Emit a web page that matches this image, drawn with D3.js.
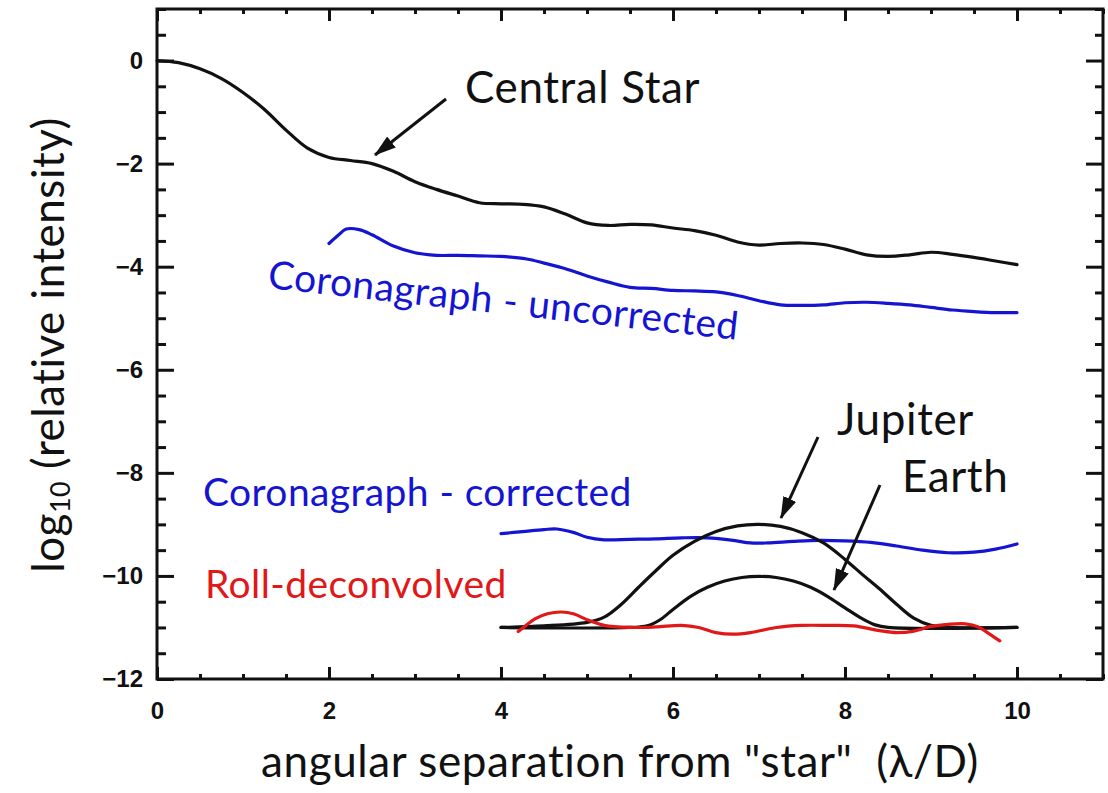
<!DOCTYPE html>
<html>
<head>
<meta charset="utf-8">
<script src="https://cdn.jsdelivr.net/npm/d3@7"></script>
<style>
  body { margin: 0; background: #fff; }
  svg { display: block; }
</style>
</head>
<body>
<svg id="chart" width="1108" height="793"></svg>
<script>
// Axis ticks
const xMajorTicks = [0, 2, 4, 6, 8, 10];
const yMajorTicks = [0, -2, -4, -6, -8, -10, -12];

// Series: [angular separation (lambda/D), log10 relative intensity]
const centralStar = [
  [0, 0], [0.25, -0.04], [0.5, -0.16], [0.75, -0.35], [1.0, -0.62], [1.25, -0.95],
  [1.5, -1.35], [1.75, -1.7], [2.0, -1.88], [2.25, -1.94], [2.5, -2.0], [2.75, -2.15],
  [3.0, -2.35], [3.25, -2.5], [3.5, -2.63], [3.75, -2.76], [4.0, -2.78], [4.25, -2.79],
  [4.5, -2.84], [4.75, -2.98], [5.0, -3.15], [5.25, -3.2], [5.5, -3.18], [5.75, -3.19],
  [6.0, -3.25], [6.25, -3.3], [6.5, -3.39], [6.75, -3.52], [7.0, -3.58], [7.25, -3.55],
  [7.5, -3.54], [7.75, -3.57], [8.0, -3.66], [8.25, -3.77], [8.5, -3.8], [8.75, -3.77],
  [9.0, -3.72], [9.25, -3.76], [9.5, -3.82], [9.75, -3.89], [10.0, -3.96]
];

const coronagraphUncorrected = [
  [2.0, -3.55], [2.1, -3.4], [2.2, -3.27], [2.35, -3.28], [2.5, -3.38], [2.75, -3.6],
  [3.0, -3.73], [3.25, -3.78], [3.5, -3.78], [3.75, -3.79], [4.0, -3.8], [4.3, -3.85],
  [4.5, -3.93], [4.75, -4.04], [5.0, -4.18], [5.25, -4.3], [5.5, -4.4], [5.75, -4.42],
  [6.0, -4.46], [6.25, -4.47], [6.5, -4.49], [6.75, -4.56], [7.0, -4.66], [7.25, -4.74],
  [7.5, -4.75], [7.75, -4.74], [8.0, -4.7], [8.25, -4.69], [8.5, -4.71], [8.75, -4.74],
  [9.0, -4.79], [9.25, -4.84], [9.5, -4.87], [9.75, -4.89], [10.0, -4.89]
];

const coronagraphCorrected = [
  [4.0, -9.18], [4.25, -9.14], [4.5, -9.1], [4.65, -9.09], [4.85, -9.16], [5.0, -9.25],
  [5.2, -9.3], [5.5, -9.29], [5.8, -9.28], [6.1, -9.26], [6.4, -9.26], [6.7, -9.31],
  [6.9, -9.36], [7.1, -9.36], [7.4, -9.33], [7.7, -9.31], [8.0, -9.32], [8.3, -9.35],
  [8.6, -9.42], [8.9, -9.5], [9.2, -9.55], [9.5, -9.54], [9.75, -9.48], [10.0, -9.38]
];

const jupiter = [
  [4.0, -11], [4.5, -10.97], [5.0, -10.9], [5.2, -10.8], [5.4, -10.55], [5.6, -10.22],
  [5.8, -9.9], [6.0, -9.6], [6.25, -9.33], [6.5, -9.14], [6.75, -9.03], [7.0, -9.0],
  [7.25, -9.04], [7.5, -9.16], [7.75, -9.36], [8.0, -9.68], [8.2, -9.97], [8.4, -10.25],
  [8.6, -10.55], [8.8, -10.82], [9.0, -10.96], [9.2, -11], [10.0, -11]
];

const earth = [
  [4.0, -11], [5.5, -11], [5.7, -10.97], [5.85, -10.85], [6.0, -10.65], [6.2, -10.4],
  [6.4, -10.22], [6.6, -10.1], [6.8, -10.03], [7.0, -10.01], [7.2, -10.03], [7.4, -10.1],
  [7.6, -10.22], [7.8, -10.4], [8.0, -10.62], [8.2, -10.83], [8.35, -10.95], [8.5, -11],
  [10.0, -11]
];

const rollDeconvolved = [
  [4.2, -11.08], [4.3, -10.95], [4.4, -10.83], [4.55, -10.73], [4.7, -10.7], [4.85, -10.74],
  [5.0, -10.85], [5.2, -10.96], [5.5, -11.0], [5.8, -10.99], [6.1, -10.96], [6.3, -11.0],
  [6.5, -11.1], [6.7, -11.13], [6.9, -11.1], [7.2, -11.0], [7.5, -10.96], [7.8, -10.96],
  [8.1, -10.97], [8.4, -11.06], [8.6, -11.1], [8.8, -11.07], [9.0, -10.98], [9.2, -10.94],
  [9.4, -10.93], [9.55, -10.99], [9.7, -11.15], [9.8, -11.26]
];

const BLUE = "#1414d2";
const RED = "#e01818";
const TEXT_FONT = "Lato, 'Open Sans', sans-serif";
const TICK_FONT = "'Liberation Sans', Arial, sans-serif";

const svg = d3.select("#chart");

const x = d3.scaleLinear().domain([0, 11]).range([157, 1103]);
const y = d3.scaleLinear().domain([-12, 1]).range([679, 9]);

const plotLeft = x(0), plotRight = x(11), plotTop = y(1), plotBottom = y(-12);

const xMinor = d3.range(0, 11.001, 0.5).filter(v => !xMajorTicks.includes(v));
const yMinor = d3.range(-12, 1.001, 0.5).filter(v => !yMajorTicks.includes(v));

// Inward-pointing ticks on all four sides
function tickAxis(axisFn, scale, values, size, transform) {
  const g = svg.append("g").attr("transform", transform)
    .call(axisFn(scale).tickValues(values).tickSize(-size).tickFormat(""));
  g.select(".domain").remove();
  g.selectAll(".tick line").attr("stroke", "#111").attr("stroke-width", 3);
}
tickAxis(d3.axisBottom, x, xMinor, 5, `translate(0,${plotBottom})`);
tickAxis(d3.axisBottom, x, xMajorTicks, 12, `translate(0,${plotBottom})`);
tickAxis(d3.axisTop, x, xMinor, 5, `translate(0,${plotTop})`);
tickAxis(d3.axisTop, x, xMajorTicks, 12, `translate(0,${plotTop})`);
tickAxis(d3.axisLeft, y, yMinor, 9, `translate(${plotLeft},0)`);
tickAxis(d3.axisLeft, y, yMajorTicks, 17, `translate(${plotLeft},0)`);
tickAxis(d3.axisRight, y, yMinor, 8, `translate(${plotRight},0)`);
tickAxis(d3.axisRight, y, yMajorTicks, 17, `translate(${plotRight},0)`);

// Tick labels
const xLabels = svg.append("g").attr("transform", `translate(0,${plotBottom})`)
  .call(d3.axisBottom(x).tickValues(xMajorTicks).tickSize(0).tickPadding(23).tickFormat(d3.format("d")));
xLabels.select(".domain").remove();
xLabels.selectAll("text").attr("font-family", TICK_FONT).attr("font-size", 24)
  .attr("font-weight", "bold").attr("fill", "#111");

const yLabels = svg.append("g").attr("transform", `translate(${plotLeft},0)`)
  .call(d3.axisLeft(y).tickValues(yMajorTicks).tickSize(0).tickPadding(14)
    .tickFormat(d => d < 0 ? "\u2212" + Math.abs(d) : String(d)));
yLabels.select(".domain").remove();
yLabels.selectAll("text").attr("font-family", TICK_FONT).attr("font-size", 24)
  .attr("font-weight", "bold").attr("fill", "#111");

// Plot frame
svg.append("rect")
  .attr("x", plotLeft).attr("y", plotTop)
  .attr("width", plotRight - plotLeft).attr("height", plotBottom - plotTop)
  .attr("fill", "none").attr("stroke", "#111").attr("stroke-width", 3);

// Curves
const line = d3.line()
  .x(d => x(d[0])).y(d => y(d[1]))
  .curve(d3.curveCatmullRom.alpha(0.5));

function drawSeries(data, color) {
  svg.append("path").datum(data)
    .attr("d", line)
    .attr("fill", "none")
    .attr("stroke", color)
    .attr("stroke-width", 3.2)
    .attr("stroke-linejoin", "round")
    .attr("stroke-linecap", "round");
}
drawSeries(centralStar, "#111");
drawSeries(coronagraphUncorrected, BLUE);
drawSeries(coronagraphCorrected, BLUE);
drawSeries(jupiter, "#111");
drawSeries(earth, "#111");
drawSeries(rollDeconvolved, RED);

// Arrowheads for the annotation pointers
svg.append("defs").append("marker")
  .attr("id", "arrowhead")
  .attr("markerUnits", "userSpaceOnUse")
  .attr("viewBox", "0 0 22 14")
  .attr("refX", 21).attr("refY", 7)
  .attr("markerWidth", 22).attr("markerHeight", 14)
  .attr("orient", "auto")
  .append("path")
  .attr("d", "M0,0 L22,7 L0,14 Z")
  .attr("fill", "#111");

function pointer(x1, y1, x2, y2) {
  svg.append("line")
    .attr("x1", x1).attr("y1", y1).attr("x2", x2).attr("y2", y2)
    .attr("stroke", "#111").attr("stroke-width", 3)
    .attr("marker-end", "url(#arrowhead)");
}
pointer(446, 99, 375, 155);
pointer(818, 437, 781, 518);
pointer(880, 485, 834, 590);

// Annotations
function label(txt, px, py, color, size, spacing, rotate) {
  svg.append("text")
    .attr("transform", `translate(${px},${py})` + (rotate ? ` rotate(${rotate})` : ""))
    .attr("font-family", TEXT_FONT)
    .attr("font-size", size)
    .attr("letter-spacing", spacing)
    .attr("fill", color)
    .text(txt);
}
label("Central Star", 465, 103, "#111", 44, 0.6);
label("Coronagraph - uncorrected", 267, 288, BLUE, 39, 0.4, 6.3);
label("Coronagraph - corrected", 203, 506, BLUE, 39, 0.4);
label("Roll-deconvolved", 205, 598, RED, 39, 0.4);
label("Jupiter", 837, 435, "#111", 44, 0.6);
label("Earth", 902, 492, "#111", 44, 0.6);

// Axis titles
svg.append("text")
  .attr("x", 620).attr("y", 777)
  .attr("text-anchor", "middle")
  .attr("font-family", TEXT_FONT)
  .attr("font-size", 44)
  .attr("letter-spacing", 0.6)
  .attr("fill", "#111")
  .text("angular separation from \"star\"\u00a0\u00a0(\u03bb/D)");

const yTitle = svg.append("text")
  .attr("transform", "translate(64,345) rotate(-90)")
  .attr("text-anchor", "middle")
  .attr("font-family", TEXT_FONT)
  .attr("font-size", 44)
  .attr("letter-spacing", 0.5)
  .attr("fill", "#111");
yTitle.append("tspan").text("log");
yTitle.append("tspan").attr("font-size", 27).attr("dy", 6).text("10");
yTitle.append("tspan").attr("dy", -6).text(" (relative intensity)");
</script>
</body>
</html>
